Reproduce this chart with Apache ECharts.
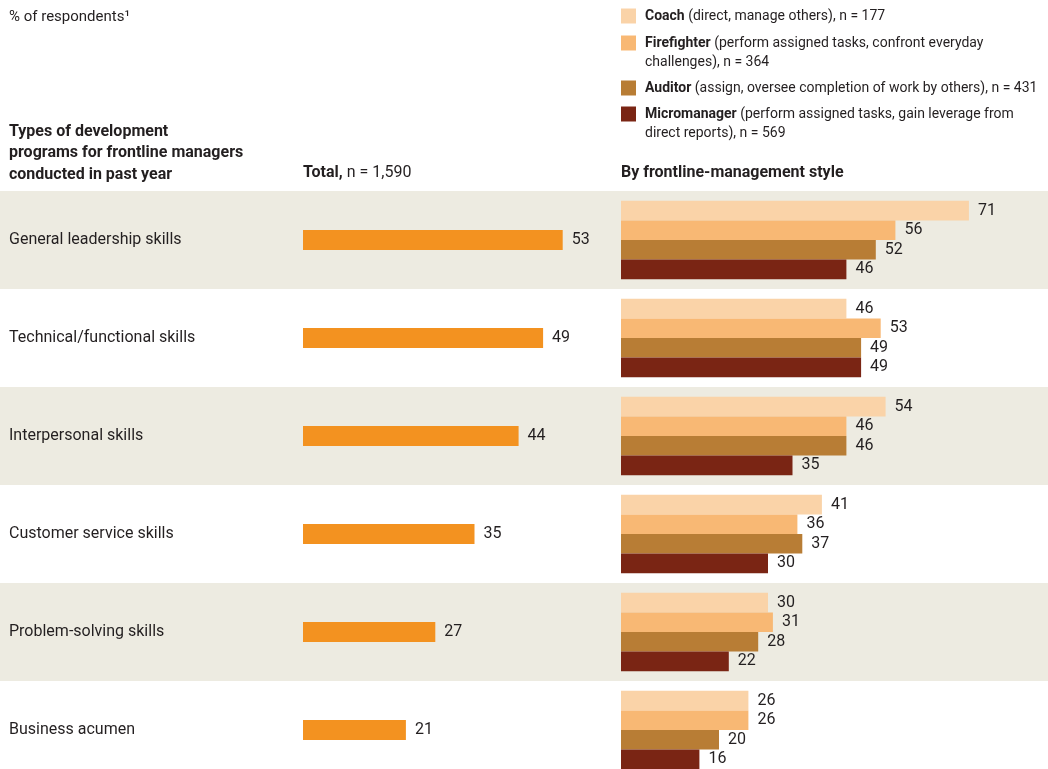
<!DOCTYPE html>
<html>
<head>
<meta charset="utf-8">
<style>
  html, body { margin: 0; padding: 0; background: #fff; overflow: hidden; }
  /* last row runs past the bottom edge in the original, so the canvas is a bit taller than the window */
  #chart { width: 1048px; height: 779px; }
</style>
<script src="https://cdn.jsdelivr.net/npm/echarts@6/dist/echarts.min.js"></script>
</head>
<body>
<div id="chart"></div>
<script>
// chart data
var categories = [
  'General leadership skills',
  'Technical/functional skills',
  'Interpersonal skills',
  'Customer service skills',
  'Problem-solving skills',
  'Business acumen'
];
var totalValues = [53, 49, 44, 35, 27, 21];
var coachValues = [71, 46, 54, 41, 30, 26];
var firefighterValues = [56, 53, 46, 36, 31, 26];
var auditorValues = [52, 49, 46, 37, 28, 20];
var micromanagerValues = [46, 49, 35, 30, 22, 16];

var styleNames = ['Coach', 'Firefighter', 'Auditor', 'Micromanager'];
var styleNotes = [
  ' (direct, manage others), n = 177',
  ' (perform assigned tasks, confront everyday\nchallenges), n = 364',
  ' (assign, oversee completion of work by others), n = 431',
  ' (perform assigned tasks, gain leverage from\ndirect reports), n = 569'
];
var styleColors = ['#fad3a8', '#f8b874', '#b87d35', '#7a2514'];

var FONT = 'Roboto, "Liberation Sans", sans-serif';
var TXT = '#231f20';

var chart = echarts.init(document.getElementById('chart'));

// legend built by hand (wrapped text)
var legendY = [16, 43, 88, 114];
var graphics = [];
styleNames.forEach(function (n, i) {
  graphics.push({
    type: 'rect', left: 621, top: legendY[i] - 7.5,
    shape: { width: 15, height: 15 },
    style: { fill: styleColors[i] }
  });
  var lines = styleNotes[i].split('\n');
  var txt = '{b|' + n + '}{n|' + lines[0] + '}';
  if (lines.length > 1) txt += '\n{n|' + lines[1] + '}';
  graphics.push({
    type: 'text', left: 645, top: legendY[i] - 7,
    style: {
      text: txt,
      rich: {
        b: { fontFamily: FONT, fontSize: 14, fontWeight: 'bold', fill: TXT, lineHeight: 19 },
        n: { fontFamily: FONT, fontSize: 14, fill: TXT, lineHeight: 19 }
      }
    }
  });
});

graphics.push({
  type: 'text', left: 9, top: 10,
  style: { text: '% of respondents\u00b9', fontFamily: FONT, fontSize: 15, fill: TXT }
});
graphics.push({
  type: 'text', left: 9, top: 121,
  style: {
    text: 'Types of development\nprograms for frontline managers\nconducted in past year',
    fontFamily: FONT, fontSize: 16, fontWeight: 'bold', fill: TXT, lineHeight: 21.5
  }
});
graphics.push({
  type: 'text', left: 303, top: 165,
  style: {
    text: '{b|Total,}{n| n = 1,590}',
    rich: {
      b: { fontFamily: FONT, fontSize: 16, fontWeight: 'bold', fill: TXT },
      n: { fontFamily: FONT, fontSize: 16, fill: TXT }
    }
  }
});
graphics.push({
  type: 'text', left: 621, top: 165,
  style: { text: 'By frontline-management style', fontFamily: FONT, fontSize: 16, fontWeight: 'bold', fill: TXT }
});

var labelStyle = {
  show: true, position: 'right', distance: 9,
  fontFamily: FONT, fontSize: 16, color: TXT
};

var styleData = [coachValues, firefighterValues, auditorValues, micromanagerValues];
var styleSeries = styleData.map(function (vals, i) {
  return {
    name: styleNames[i], type: 'bar', xAxisIndex: 2, yAxisIndex: 2,
    data: vals, barGap: '0%', barCategoryGap: '20%',
    itemStyle: { color: styleColors[i] },
    label: labelStyle, silent: true
  };
});

chart.setOption({
  backgroundColor: '#fff',
  animation: false,
  graphic: graphics,
  grid: [
    { left: 0, top: 191, right: 0, bottom: 0 },        // background bands
    { left: 303, top: 191, width: 392, bottom: 0 },    // total
    { left: 621, top: 191, width: 392, bottom: 0 }     // by style
  ],
  xAxis: [
    { gridIndex: 0, type: 'value', show: false, min: 0, max: 1 },
    { gridIndex: 1, type: 'value', show: false, min: 0, max: 80 },
    { gridIndex: 2, type: 'value', show: false, min: 0, max: 80 }
  ],
  yAxis: [
    {
      gridIndex: 0, type: 'category', data: categories, inverse: true,
      axisLine: { show: false }, axisTick: { show: false }, axisLabel: { show: false },
      splitArea: { show: true, areaStyle: { color: ['#edebe1', '#ffffff'] } }
    },
    {
      gridIndex: 1, type: 'category', data: categories, inverse: true,
      axisLine: { show: false }, axisTick: { show: false },
      axisLabel: {
        align: 'left', margin: 294, padding: [4, 0, 0, 0],
        fontFamily: FONT, fontSize: 16, color: TXT
      }
    },
    {
      gridIndex: 2, type: 'category', data: categories, inverse: true,
      axisLine: { show: false }, axisTick: { show: false }, axisLabel: { show: false }
    }
  ],
  series: [
    {
      name: 'Total', type: 'bar', xAxisIndex: 1, yAxisIndex: 1,
      data: totalValues, barWidth: 20,
      itemStyle: { color: '#f39220' },
      label: labelStyle, silent: true
    }
  ].concat(styleSeries)
});
</script>
</body>
</html>
